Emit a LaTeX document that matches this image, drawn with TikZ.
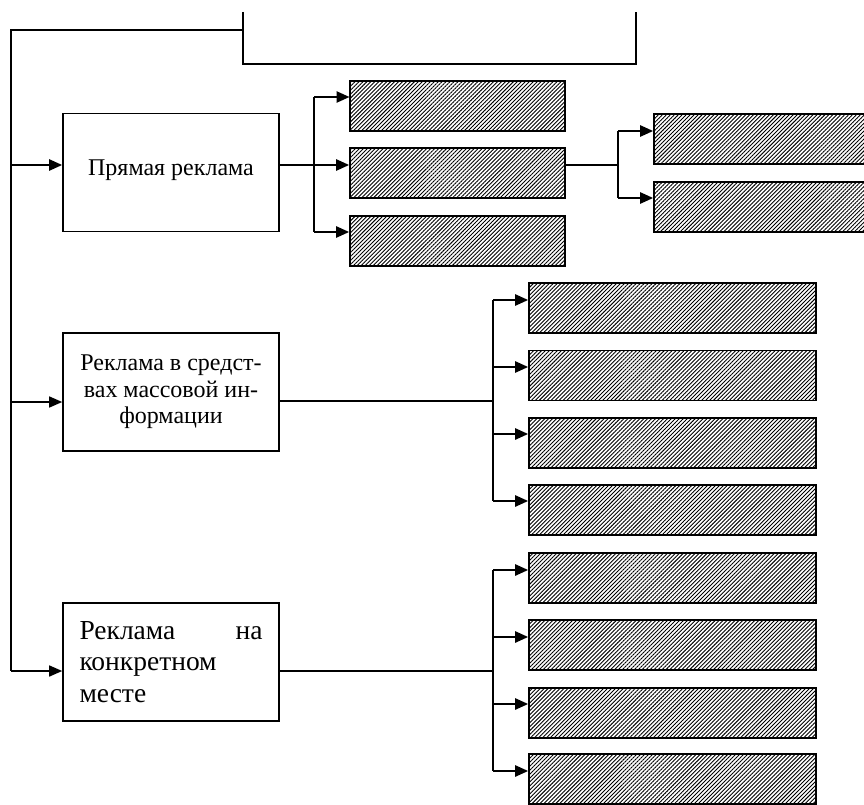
\documentclass[tikz,border=0pt]{standalone}
\usepackage{fontspec}
\setmainfont{Liberation Serif}
\usetikzlibrary{arrows.meta,patterns.meta}
\begin{document}
\begin{tikzpicture}[x=1pt,y=-1pt,
  mainbox/.style={draw,line width=1.6pt,minimum width=216pt,minimum height=118pt,inner sep=0pt,
    font={\fontsize{24}{26.5}\selectfont}},
  hbox/.style={draw,line width=1.6pt,inner sep=0pt,minimum height=50pt,
    pattern={Lines[angle=45,distance=2.8pt,line width=0.9pt]}},
  gA/.style={hbox,minimum width=215pt},
  gR/.style={hbox,minimum width=250pt},
  gB/.style={hbox,minimum width=287pt},
  thin/.style={line width=1.5pt},
  thick/.style={line width=2.4pt},
  tip/.style={-{Triangle[length=13pt,width=11pt]}},
  arr/.style={thick,tip}
]
\useasboundingbox (0,0) rectangle (864,805);

% top (partially visible) box
\coordinate (tl) at (243,12);
\coordinate (tbl) at (243,64);
\coordinate (tbr) at (636,64);
\coordinate (tr) at (636,12);
\draw[thin] (tl) -- (tbl) -- (tbr) -- (tr);

% main boxes
\node[mainbox] (m1) at (171,172.5) {\raisebox{10pt}{Прямая реклама}};
\node[mainbox,align=center] (m2) at (171,392) {\raisebox{17pt}{\begin{tabular}{@{}c@{}}Реклама в средст-\\вах массовой ин-\\формации\end{tabular}}};
\node[mainbox,text width=183pt,inner xsep=16.5pt,align=left,font={\fontsize{27.5}{31.5}\selectfont}] (m3) at (171,662) {Реклама\hfill на\\конкретном\\месте};

% left trunk
\coordinate (t0) at (11,30);
\coordinate (tj) at (243,30);
\coordinate (t1) at (11,165);
\coordinate (t2) at (11,402);
\coordinate (t3) at (11,671);
\draw[thin] (tj) -- (t0) -- (t3);
\draw[arr] (t1) -- (m1.west |- t1);
\draw[thin,tip] (t2) -- (m2.west |- t2);
\draw[thin,tip] (t3) -- (m3.west |- t3);

% group A
\node[gA] (a1) at (457.5,106) {};
\node[gA] (a2) at (457.5,173) {};
\node[gA] (a3) at (457.5,241) {};
\coordinate (ja1) at (314,97);
\coordinate (ja2) at (314,165);
\coordinate (ja3) at (314,232);
\draw[thick] (m1.east |- ja2) -- (ja2);
\draw[thick] (ja1) -- (ja3);
\draw[arr] (ja1) -- (a1.west |- ja1);
\draw[arr] (ja2) -- (a2.west |- ja2);
\draw[arr] (ja3) -- (a3.west |- ja3);

% right group
\node[gR] (r1) at (779,139) {};
\node[gR] (r2) at (779,207) {};
\coordinate (jr0) at (618,165);
\coordinate (jr1) at (618,131);
\coordinate (jr2) at (618,198);
\draw[thin] (a2.east |- jr0) -- (jr0);
\draw[thick] (jr1) -- (jr2);
\draw[arr] (jr1) -- (r1.west |- jr1);
\draw[arr] (jr2) -- (r2.west |- jr2);

% group B
\node[gB] (b1) at (672.5,308) {};
\node[gB] (b2) at (672.5,375.5) {};
\node[gB] (b3) at (672.5,443) {};
\node[gB] (b4) at (672.5,510) {};
\coordinate (jb0) at (493,401);
\coordinate (jb1) at (493,300);
\coordinate (jb2) at (493,367);
\coordinate (jb3) at (493,434);
\coordinate (jb4) at (493,501);
\draw[thin] (m2.east |- jb0) -- (jb0);
\draw[thick] (jb1) -- (jb4);
\draw[arr] (jb1) -- (b1.west |- jb1);
\draw[arr] (jb2) -- (b2.west |- jb2);
\draw[arr] (jb3) -- (b3.west |- jb3);
\draw[arr] (jb4) -- (b4.west |- jb4);

% group C
\node[gB] (c1) at (672.5,578) {};
\node[gB] (c2) at (672.5,645) {};
\node[gB] (c3) at (672.5,713) {};
\node[gB] (c4) at (672.5,779) {};
\coordinate (jc0) at (493,671);
\coordinate (jc1) at (493,570);
\coordinate (jc2) at (493,637);
\coordinate (jc3) at (493,704);
\coordinate (jc4) at (493,771);
\draw[thin] (m3.east |- jc0) -- (jc0);
\draw[thick] (jc1) -- (jc4);
\draw[arr] (jc1) -- (c1.west |- jc1);
\draw[arr] (jc2) -- (c2.west |- jc2);
\draw[arr] (jc3) -- (c3.west |- jc3);
\draw[arr] (jc4) -- (c4.west |- jc4);
\end{tikzpicture}
\end{document}
